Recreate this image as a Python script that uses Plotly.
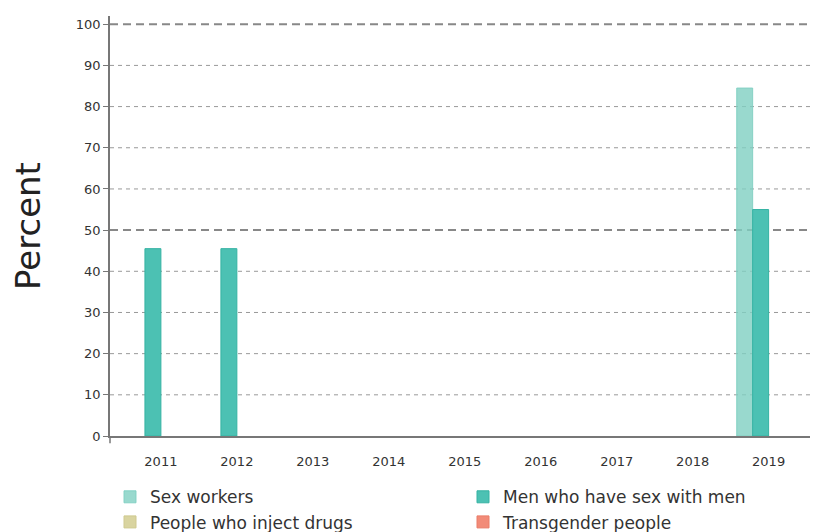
import plotly.graph_objects as go

years = ["2011", "2012", "2013", "2014", "2015", "2016", "2017", "2018", "2019"]
sex_workers = [None, None, None, None, None, None, None, None, 84.5]
msm = [45.5, 45.5, None, None, None, None, None, None, 55.0]
pwid = [None, None, None, None, None, None, None, None, None]
transgender = [None, None, None, None, None, None, None, None, None]
y_ticks = list(range(0, 101, 10))
major_lines = [50, 100]

series = [
    ("Sex workers", sex_workers, "rgba(128,207,194,0.8)", "rgba(128,207,194,0.9)"),
    ("Men who have sex with men", msm, "#4cc1b3", "#35b3a3"),
    ("People who inject drugs", pwid, "#d9d4a0", "#cfc98f"),
    ("Transgender people", transgender, "#f28b78", "#ea7d69"),
]

fig = go.Figure()
for name, vals, fill, line in series:
    fig.add_trace(go.Bar(
        x=years, y=vals, name=name,
        marker=dict(color=fill, line=dict(color=line, width=1)),
    ))

fig.update_layout(
    width=810, height=524,
    margin=dict(l=102, r=0, t=8, b=96, autoexpand=False),
    paper_bgcolor="white", plot_bgcolor="white",
    font=dict(family="DejaVu Sans", color="#333"),
    barmode="group", bargap=0.16, bargroupgap=0,
    showlegend=True,
    legend=dict(orientation="h", x=0.0, y=-0.103,
                xanchor="left", yanchor="top",
                entrywidth=308, entrywidthmode="pixels",
                font=dict(size=17, color="#333"), traceorder="normal"),
    xaxis=dict(
        range=[-0.67, 8.65], showline=True, linecolor="#777", linewidth=1.5,
        showgrid=False, ticks="", tickfont=dict(size=13, color="#333"),
        ticklabelstandoff=13, fixedrange=True,
    ),
    yaxis=dict(
        range=[0, 102], tickvals=y_ticks,
        showline=True, linecolor="#777", linewidth=1.5,
        ticks="outside", ticklen=5, tickcolor="#777", tickwidth=1,
        tickfont=dict(size=13, color="#333"),
        showgrid=False, zeroline=False,
    ),
)

fig.add_annotation(text="Percent", xref="paper", yref="paper", x=0, y=0.5,
                   xanchor="center", yanchor="middle", xshift=-82, textangle=-90,
                   showarrow=False, font=dict(size=34, color="#222"))

for v in y_ticks[1:]:
    if v in major_lines:
        ln = dict(color="#888", width=2, dash="8px,5px")
    else:
        ln = dict(color="#999", width=1, dash="4px,4px")
    fig.add_shape(type="line", xref="paper", yref="y", x0=0, x1=1, y0=v, y1=v,
                  line=ln, layer="below")

fig.add_shape(type="line", xref="paper", yref="paper", x0=0, x1=0, y0=0, y1=-0.017,
              line=dict(color="#777", width=1.5))

fig.write_html("out.html")
